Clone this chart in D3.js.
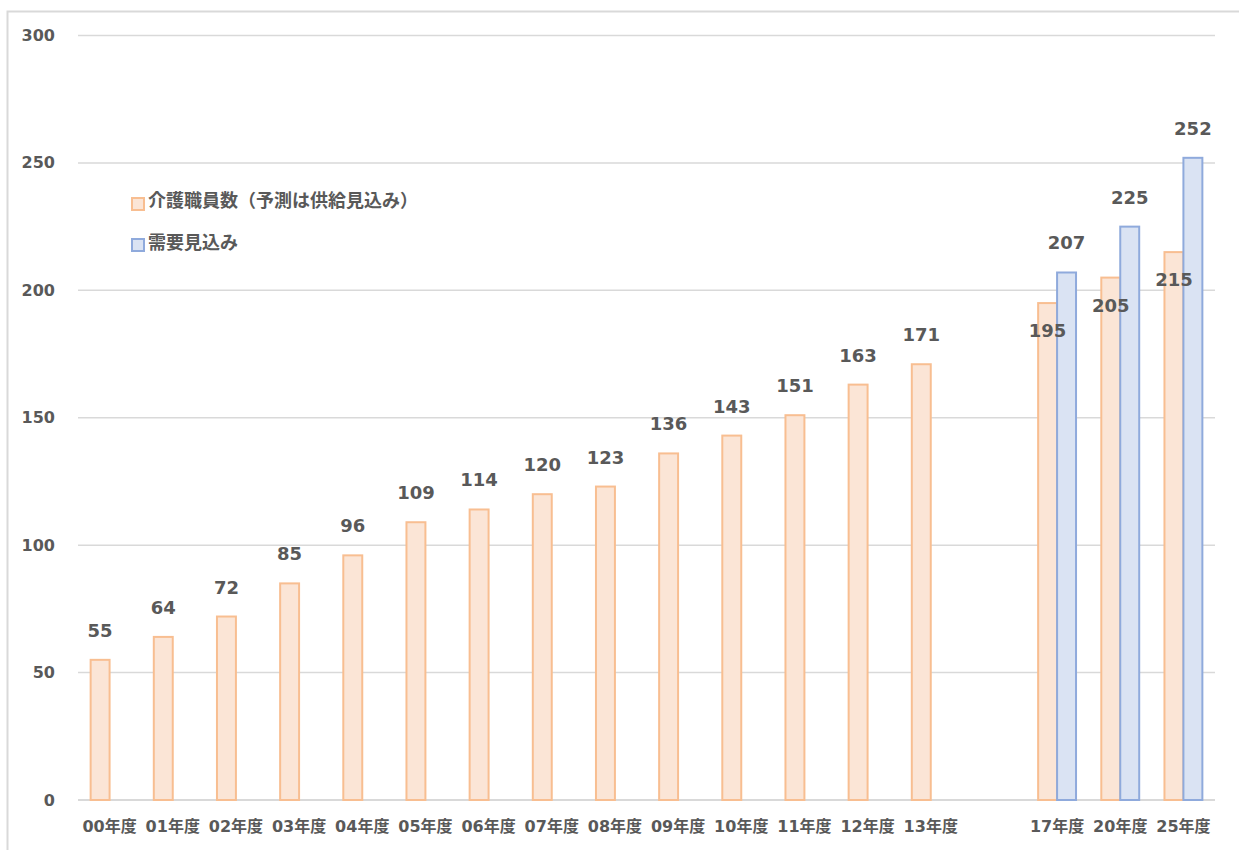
<!DOCTYPE html>
<html>
<head>
<meta charset="utf-8">
<script src="https://cdn.jsdelivr.net/npm/d3@7"></script>
<style>
  body { margin: 0; background: #fff; }
  svg text { font-family: "DejaVu Sans", "Noto Sans CJK JP", sans-serif; font-weight: bold; fill: #595959; }
</style>
</head>
<body>
<figure id="chart" style="margin:0"></figure>
<script>
// categories (one empty slot between 13 and 17)
var categories = ["00年度", "01年度", "02年度", "03年度", "04年度", "05年度", "06年度", "07年度",
    "08年度", "09年度", "10年度", "11年度", "12年度", "13年度", " ", "17年度", "20年度", "25年度"];
var supply = [55, 64, 72, 85, 96, 109, 114, 120, 123, 136, 143, 151, 163, 171, null, 195, 205, 215];
var demand = [null, null, null, null, null, null, null, null, null, null, null, null, null, null, null, 207, 225, 252];
var seriesNames = ["介護職員数（予測は供給見込み）", "需要見込み"];
var yTicks = [0, 50, 100, 150, 200, 250, 300];

var dimensions = {
    width: 1239,
    height: 850,
};

var colors = [
    { fill: "#FBE5D6", stroke: "#F8BE91" },
    { fill: "#DAE3F3", stroke: "#8FAADC" },
];

var svg = d3.select("figure#chart")
    .append("svg")
    .attr("width", dimensions.width)
    .attr("height", dimensions.height);

// outer frame (extends past right/bottom edges)
svg.append("rect")
    .attr("x", 7.5).attr("y", 11.5)
    .attr("width", 1300).attr("height", 900)
    .attr("fill", "none")
    .attr("stroke", "#D9D9D9")
    .attr("stroke-width", 2);

var xScale = d3.scaleBand()
    .domain(categories)
    .range([78, 1215]);

var bw = xScale.bandwidth();
var x1 = d3.scaleBand()
    .domain([0, 1])
    .range([bw * 0.2, bw * 0.8]);

var yScale = d3.scaleLinear()
    .domain([0, 300])
    .range([800, 35.5]);

// gridlines
svg.append("g")
    .selectAll("line")
    .data(yTicks)
    .enter()
    .append("line")
    .attr("x1", 78).attr("x2", 1215)
    .attr("y1", d => yScale(d)).attr("y2", d => yScale(d))
    .attr("stroke", "#D9D9D9")
    .attr("stroke-width", d => d === 0 ? 2 : 1.5);

// y labels
svg.append("g")
    .selectAll("text")
    .data(yTicks)
    .enter()
    .append("text")
    .attr("x", 55)
    .attr("y", d => yScale(d) + 5.5)
    .attr("text-anchor", "end")
    .style("font-size", "16px")
    .text(d => d);

// x labels
svg.append("g")
    .selectAll("text")
    .data(categories)
    .enter()
    .append("text")
    .attr("x", d => xScale(d) + bw / 2)
    .attr("y", 832)
    .attr("text-anchor", "middle")
    .style("font-size", "16px")
    .text(d => d.trim());

var series = [supply, demand];
var points = series.map(function(values, si) {
    return categories.map((c, i) => ({ cat: c, i: i, si: si, v: values[i] }))
        .filter(d => d.v != null);
});

// bars first
points.forEach(function(pts, si) {
    svg.append("g")
        .selectAll("rect")
        .data(pts)
        .enter()
        .append("rect")
        .attr("x", d => xScale(d.cat) + x1(si))
        .attr("y", d => yScale(d.v))
        .attr("width", x1.bandwidth())
        .attr("height", d => yScale(0) - yScale(d.v))
        .attr("fill", colors[si].fill)
        .attr("stroke", colors[si].stroke)
        .attr("stroke-width", 2);
});

// then value labels on top
points.forEach(function(pts, si) {
    svg.append("g")
        .selectAll("text")
        .data(pts)
        .enter()
        .append("text")
        .attr("x", d => xScale(d.cat) + x1(si) + x1.bandwidth() / 2)
        .attr("y", d => (si === 0 && d.i >= 15) ? yScale(d.v) + 34 : yScale(d.v) - 23)
        .attr("text-anchor", "middle")
        .style("font-size", "18px")
        .text(d => d.v);
});

// legend
var legend = svg.append("g");
seriesNames.forEach(function(name, i) {
    legend.append("rect")
        .attr("x", 132).attr("y", 198 + i * 41)
        .attr("width", 12).attr("height", 12)
        .attr("fill", colors[i].fill)
        .attr("stroke", colors[i].stroke)
        .attr("stroke-width", 2);
    legend.append("text")
        .attr("x", 148).attr("y", 207 + i * 42)
        .style("font-size", "18px")
        .text(name);
});
</script>
</body>
</html>
